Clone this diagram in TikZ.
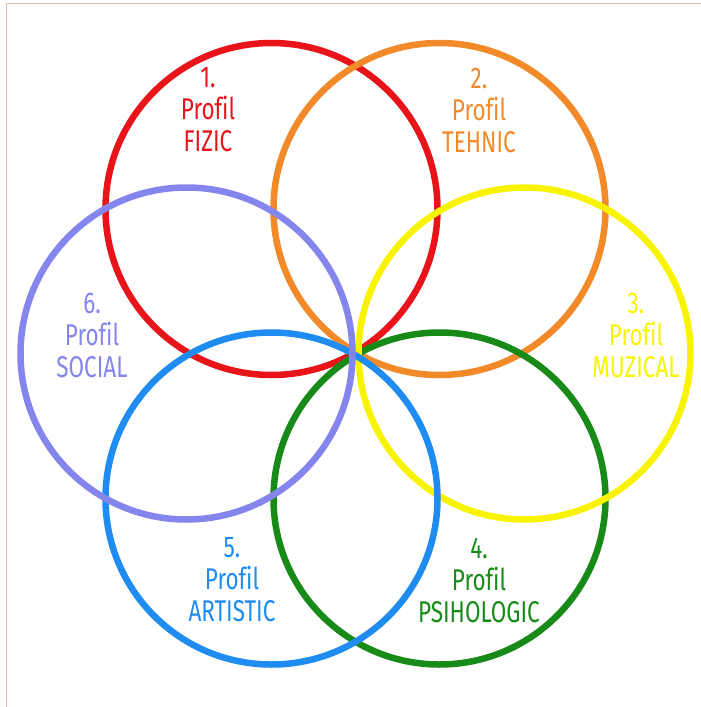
\documentclass[tikz,border=0pt]{standalone}
\usepackage{fontspec}
\setmainfont[FakeStretch=0.75,Ligatures=NoCommon]{Fira Sans}
\definecolor{cred}{HTML}{E8141A}
\definecolor{corange}{HTML}{F28A2A}
\definecolor{cyellow}{HTML}{F8F400}
\definecolor{cgreen}{HTML}{188A18}
\definecolor{cblue}{HTML}{1E8CF0}
\definecolor{cpurple}{HTML}{8585EE}
\definecolor{cframe}{HTML}{DCC09A}
\begin{document}
\begin{tikzpicture}[x=1pt,y=-1pt,
  ring/.style={draw=#1, line width=6.5pt, circle, minimum size=332pt, inner sep=0pt},
  lbl/.style={text=#1, align=center, inner sep=0pt, font=\fontsize{30}{32}\selectfont}]
\useasboundingbox[fill=white] (0,0) rectangle (701,707);
\draw[cframe, line width=1pt] (6.5,707) -- (6.5,3.5) -- (701,3.5);
\node[ring=cred] (c1) at (271.5,209) {};
\node[ring=corange] (c2) at (439.5,209) {};
\node[ring=cgreen] (c4) at (439.5,498.5) {};
\node[ring=cyellow] (c3) at (524.5,353.5) {};
\node[ring=cblue] (c5) at (271.5,498.5) {};
\node[ring=cpurple] (c6) at (186.5,353.5) {};
\node[lbl=cred] (t1) at (208,110) {1.\\Profil\\FIZIC};
\node[lbl=corange] (t2) at (479,110) {2.\\Profil\\TEHNIC};
\node[lbl=cyellow] (t3) at (636,335) {3.\\Profil\\MUZICAL};
\node[lbl=cgreen] (t4) at (479,580) {4.\\Profil\\PSIHOLOGIC};
\node[lbl=cblue] (t5) at (232,580) {5.\\Profil\\ARTISTIC};
\node[lbl=cpurple] (t6) at (92,335) {6.\\Profil\\SOCIAL};
\end{tikzpicture}
\end{document}
